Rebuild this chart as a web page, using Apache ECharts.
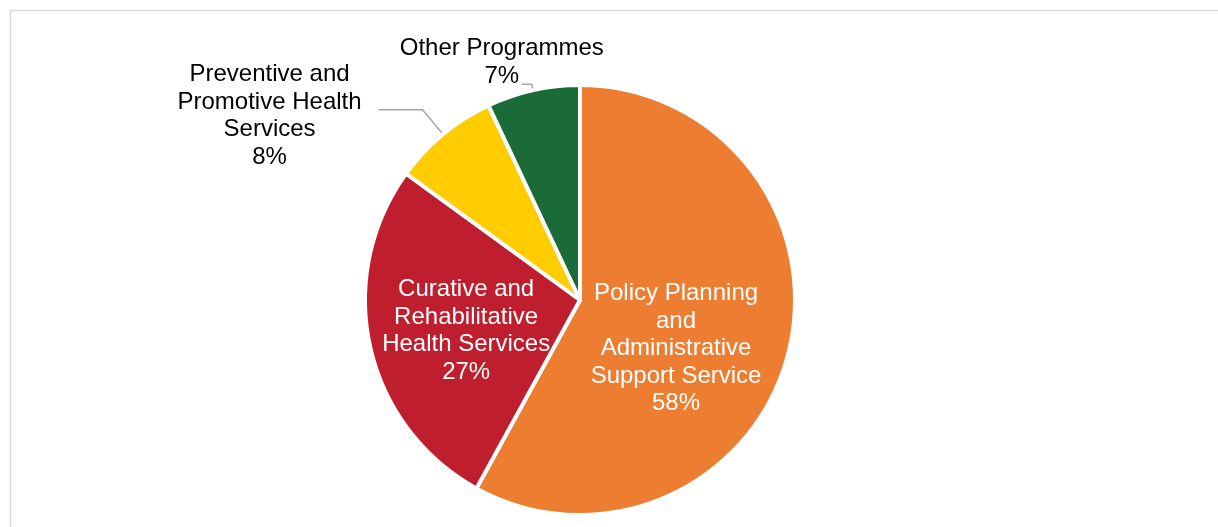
<!DOCTYPE html>
<html><head><meta charset="utf-8">
<script src="https://cdn.jsdelivr.net/npm/echarts@6/dist/echarts.min.js"></script>
<style>html,body{margin:0;padding:0;background:#fff}#c{width:1218px;height:527px}</style>
</head><body><div id="c"></div>
<script>
const categories = [
  "Policy Planning\nand\nAdministrative\nSupport Service",
  "Curative and\nRehabilitative\nHealth Services",
  "Preventive and\nPromotive Health\nServices",
  "Other Programmes"
];
const values = [58, 27, 8, 7];
const colors = ["#ED7D31", "#BE1E2D", "#FFCC00", "#1A6B37"];

const labelShift = [
  {dx: -11, dy: 21},
  {dx: -6, dy: 7},
  {dx: -104, dy: 6},
  {dx: -15, dy: -22}
];
const leaderLines = [null, null, {length: 32, length2: 44}, {length: 6, length2: 10}];

const chart = echarts.init(document.getElementById('c'));
chart.setOption({
  animation: false,
  graphic: [{
    type: 'rect', shape: {x: 10.5, y: 10.5, width: 1215, height: 540},
    style: {fill: 'none', stroke: '#d9d9d9', lineWidth: 1.5}, silent: true
  }],
  series: [{
    type: 'pie',
    center: [580, 300],
    radius: 215,
    startAngle: 90,
    clockwise: true,
    avoidLabelOverlap: false,
    itemStyle: {borderColor: '#fff', borderWidth: 4},
    label: {
      fontFamily: 'Liberation Sans, Arial, sans-serif',
      fontSize: 24, lineHeight: 27.5, color: '#000',
      formatter: p => p.name + '\n' + p.value + '%'
    },
    labelLine: {lineStyle: {color: '#a6a6a6', width: 1.5}},
    labelLayout: function (p) {
      const s = labelShift[p.dataIndex];
      return {dx: s.dx, dy: s.dy, align: 'center'};
    },
    data: values.map((v, i) => ({
      name: categories[i], value: v,
      itemStyle: {color: colors[i]},
      label: i < 2 ? {position: 'inside', color: '#fff'} : {position: 'outside'},
      labelLine: leaderLines[i] || undefined
    }))
  }]
});
</script></body></html>
